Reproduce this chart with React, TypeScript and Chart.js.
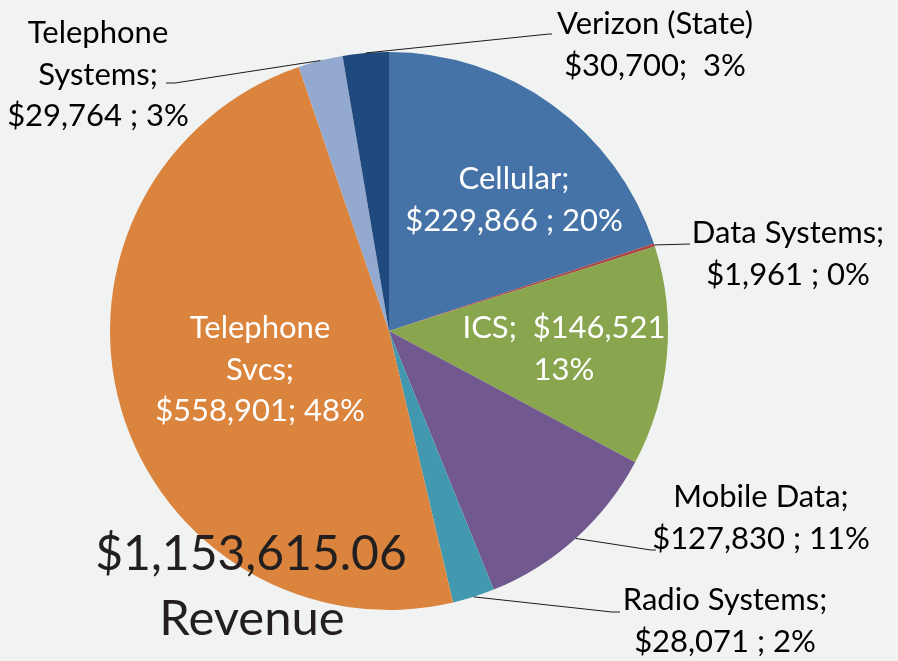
import React, { useEffect, useRef } from "react";
import { Chart, registerables } from "chart.js";

Chart.register(...registerables);

// ---------- data ----------
const categories = [
  "Cellular",
  "Data Systems",
  "ICS",
  "Mobile Data",
  "Radio Systems",
  "Telephone Svcs",
  "Telephone Systems",
  "Verizon (State)",
];
const revenue = [229866, 1961, 146521, 127830, 28071, 558901, 29764, 30700];
const totalRevenueText = "$1,153,615.06";
const totalCaption = "Revenue";

// label templates: {c} category, {v} value, {p} percent
const labelTemplates = [
  ["{c};", "{v} ; {p}"],
  ["{c};", "{v} ; {p}"],
  ["{c};  {v}", "{p}"],
  ["{c};", "{v} ; {p}"],
  ["{c};", "{v} ; {p}"],
  ["Telephone", "Svcs;", "{v}; {p}"],
  ["Telephone", "Systems;", "{v} ; {p}"],
  ["{c}", "{v};  {p}"],
];

// ---------- styles ----------
const sliceColors = [
  "#4573A7",
  "#AA4643",
  "#89A54E",
  "#71588F",
  "#4198AF",
  "#DB843D",
  "#93A9CF",
  "#204A7D",
];
const BG = "#F1F3F2";
const FONT = "Lato";
const LABEL_SIZE = 31;
const LINE_H = 41.5;

// label layout: center x, first baseline y, colour, leader path (after arc edge point)
const labelLayout: { x: number; y: number; color: string; leader?: number[][] }[] = [
  { x: 514, y: 189, color: "#ffffff" },
  { x: 788, y: 243, color: "#000000", leader: [[690, 244]] },
  { x: 564, y: 338, color: "#ffffff" },
  { x: 761, y: 507, color: "#000000", leader: [[651, 550], [656, 550]] },
  { x: 725, y: 610, color: "#000000", leader: [[612, 612], [620, 612]] },
  { x: 260, y: 338, color: "#ffffff" },
  { x: 98, y: 43, color: "#000000", leader: [[175, 83], [166, 83]] },
  { x: 655, y: 34, color: "#000000", leader: [[549, 34], [552, 34]] },
];

const total = revenue.reduce((a, b) => a + b, 0);
const fmtMoney = (v: number) => "$" + v.toLocaleString("en-US");
const fmtPct = (v: number) => Math.round((v / total) * 100) + "%";
const labelLines = labelTemplates.map((lines, i) =>
  lines.map((t) =>
    t
      .replace("{c}", categories[i])
      .replace("{v}", fmtMoney(revenue[i]))
      .replace("{p}", fmtPct(revenue[i]))
  )
);

const labelPlugin = {
  id: "sliceLabels",
  afterDraw(chart: any) {
    const ctx: CanvasRenderingContext2D = chart.ctx;
    const meta = chart.getDatasetMeta(0);
    ctx.save();
    meta.data.forEach((arc: any, i: number) => {
      const p = arc.getProps(["x", "y", "startAngle", "endAngle", "outerRadius"], true);
      const lay = labelLayout[i];
      if (lay.leader) {
        const mid = (p.startAngle + p.endAngle) / 2;
        const ex = p.x + Math.cos(mid) * p.outerRadius;
        const ey = p.y + Math.sin(mid) * p.outerRadius;
        ctx.beginPath();
        ctx.moveTo(ex, ey);
        lay.leader.forEach(([lx, ly]) => ctx.lineTo(lx, ly));
        ctx.strokeStyle = "#1a1a1a";
        ctx.lineWidth = 1;
        ctx.stroke();
      }
      ctx.fillStyle = lay.color;
      ctx.font = `${LABEL_SIZE}px ${FONT}`;
      ctx.textAlign = "center";
      ctx.textBaseline = "alphabetic";
      labelLines[i].forEach((line, k) => {
        ctx.fillText(line, lay.x, lay.y + k * LINE_H);
      });
    });
    // total
    ctx.fillStyle = "#231F20";
    ctx.textAlign = "center";
    ctx.font = `48px ${FONT}`;
    ctx.fillText(totalRevenueText, 251, 570);
    ctx.font = `49px ${FONT}`;
    ctx.fillText(totalCaption, 252, 635);
    ctx.restore();
  },
};

export default function App() {
  const ref = useRef<HTMLCanvasElement | null>(null);
  useEffect(() => {
    document.body.style.margin = "0";
    document.body.style.background = BG;
    const chart = new Chart(ref.current!, {
      type: "pie",
      data: {
        labels: categories,
        datasets: [
          {
            data: revenue,
            backgroundColor: sliceColors,
            borderWidth: 0,
          },
        ],
      },
      options: {
        animation: false,
        responsive: true,
        maintainAspectRatio: false,
        layout: { padding: { left: 110, right: 230, top: 52, bottom: 51 } },
        plugins: {
          legend: { display: false },
          tooltip: { enabled: false },
        },
      },
      plugins: [labelPlugin],
    });
    return () => chart.destroy();
  }, []);
  return (
    <div style={{ position: "absolute", left: 0, top: 0, width: 898, height: 661, background: BG }}>
      <canvas ref={ref} />
    </div>
  );
}
